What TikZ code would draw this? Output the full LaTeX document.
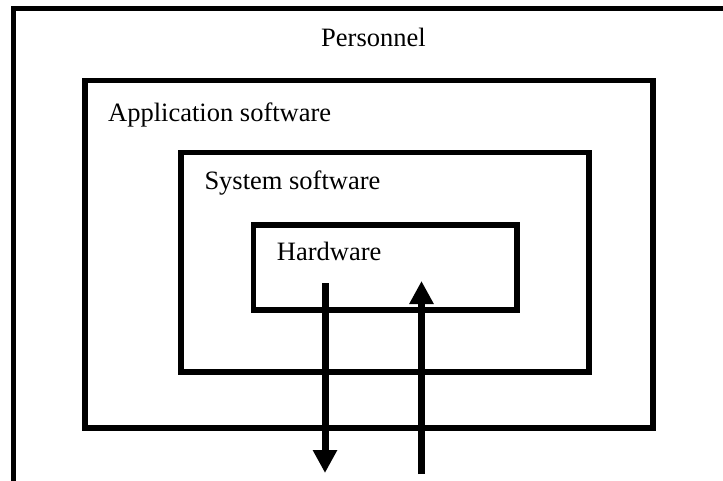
\documentclass[tikz,border=0pt]{standalone}
\usepackage{fontspec}
\setmainfont{Liberation Serif}
\usetikzlibrary{arrows.meta}
\begin{document}
\begin{tikzpicture}[x=1pt,y=-1pt,
  box/.style={draw=black,line width=5.5pt,inner sep=0pt,rectangle},
  lbl/.style={inner sep=0pt,font=\fontsize{26.5}{30}\selectfont},
  flow/.style={line width=7pt,-{Triangle[width=23pt,length=23pt]}}]
\useasboundingbox (0,0) rectangle (723,481);
\clip (0,0) rectangle (723,481);
\fill[white] (0,0) rectangle (723,481);
% outer (personnel) box, running off the page
\draw[line width=5.5pt] (13.5,500) -- (13.5,8.5) -- (740,8.5);
\node[box,minimum width=568pt,minimum height=347.5pt] (app) at (369,254.25) {};
\node[box,minimum width=408pt,minimum height=219.5pt] (sys) at (385,262.25) {};
\node[box,minimum width=263.5pt,minimum height=85pt] (hw) at (385.25,267.5) {};
\node[lbl,anchor=base] (tper) at (373.5,46.7) {Personnel};
\node[lbl,anchor=base west] (tapp) at (108,121.5) {Application software};
\node[lbl,anchor=base west] (tsys) at (204.3,190) {System software};
\node[lbl,anchor=base west] (thw) at (276.7,260.7) {Hardware};
\coordinate (d1) at (325,283);
\coordinate (d2) at (325,473);
\coordinate (u1) at (421.5,474);
\coordinate (u2) at (421.5,281);
\draw[flow] (d1) -- (d2);
\draw[flow] (u1) -- (u2);
\end{tikzpicture}
\end{document}
